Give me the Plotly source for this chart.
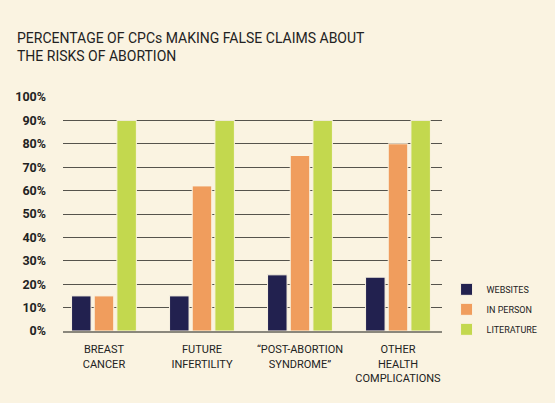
import plotly.graph_objects as go

categories = ["BREAST<br>CANCER", "FUTURE<br>INFERTILITY", "“POST-ABORTION<br>SYNDROME”", "OTHER<br>HEALTH<br>COMPLICATIONS"]
websites = [15, 15, 24, 23]
in_person = [15, 62, 75, 80]
literature = [90, 90, 90, 90]
series_names = ["WEBSITES", "IN PERSON", "LITERATURE"]
colors = ["#22214f", "#f09d5d", "#c3d84e"]
y_ticks = [0, 10, 20, 30, 40, 50, 60, 70, 80, 90, 100]
y_ticklabels = [f"{v}%" for v in y_ticks]

bg = "#faf3e1"
xpos = list(range(len(categories)))

fig = go.Figure()
for name, vals, col in zip(series_names, [websites, in_person, literature], colors):
    fig.add_trace(go.Bar(
        x=xpos, y=vals, name=name, legendgroup=name,
        marker=dict(color=col, line=dict(color=bg, width=1)),
    ))

font_fam = "Roboto, Liberation Sans, Arial"

fig.update_layout(
    width=555, height=403,
    paper_bgcolor=bg, plot_bgcolor=bg,
    margin=dict(l=63, r=113, t=97, b=72, autoexpand=False),
    barmode="group", bargap=0.306, bargroupgap=0.14,
    showlegend=True,
    legend=dict(x=1.012, y=0.24, xanchor="left", yanchor="top",
                font=dict(family=font_fam, size=9, color="#222"),
                bgcolor="rgba(0,0,0,0)", itemwidth=30, tracegroupgap=1),
    title=dict(text="PERCENTAGE OF CPCs MAKING FALSE CLAIMS ABOUT<br>THE RISKS OF ABORTION",
               x=17/555, xanchor="left", y=1-43/403, yanchor="top",
               font=dict(family=font_fam, size=14, color="#222")),
    xaxis=dict(tickvals=xpos, ticktext=categories, range=[-0.418, 3.449],
               showgrid=False, zeroline=False, showline=True, linecolor="#8a877c", linewidth=2,
               ticks="", ticklabelstandoff=7, automargin=False,
               tickfont=dict(family=font_fam, size=11, color="#222")),
    yaxis=dict(range=[0, 100], tickvals=y_ticks, ticktext=y_ticklabels,
               showgrid=True, gridcolor="#55534c", gridwidth=1, zeroline=False,
               showline=False, ticks="", ticklabelstandoff=16, automargin=False,
               tickfont=dict(family=font_fam, size=12.5, color="#222", weight="bold")),
)
fig.write_html("out.html", config={"displayModeBar": False},
               post_script="document.body.style.margin='0';document.body.style.background='%s';" % bg)
